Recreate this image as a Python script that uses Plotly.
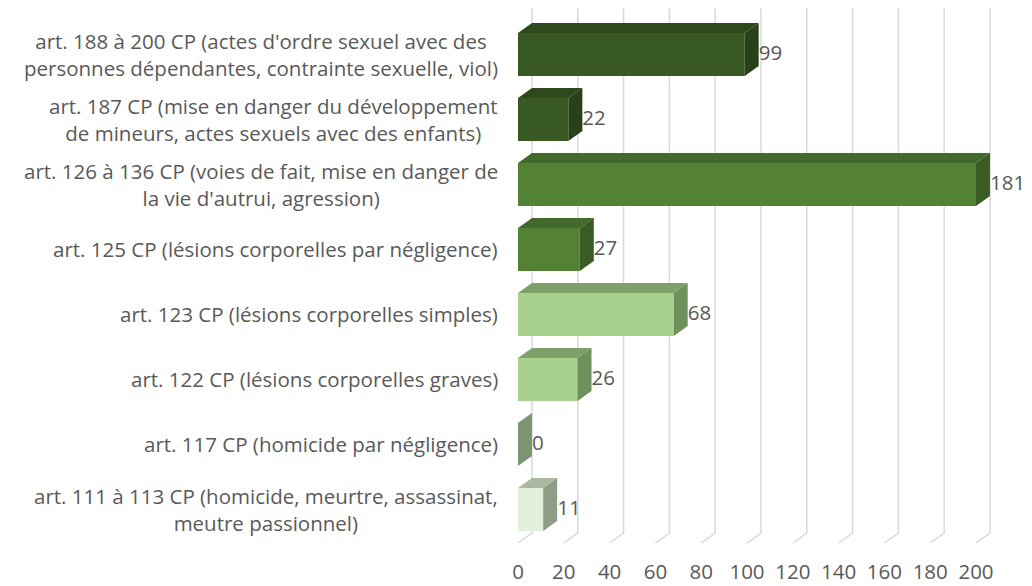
import plotly.graph_objects as go

# données (de haut en bas dans le graphique)
categories = [
    "art. 188 à 200 CP (actes d'ordre sexuel avec des<br>personnes dépendantes, contrainte sexuelle, viol)",
    "art. 187 CP (mise en danger du développement<br>de mineurs, actes sexuels avec des enfants)",
    "art. 126 à 136 CP (voies de fait, mise en danger de<br>la vie d'autrui, agression)",
    "art. 125 CP (lésions corporelles par négligence)",
    "art. 123 CP (lésions corporelles simples)",
    "art. 122 CP (lésions corporelles graves)",
    "art. 117 CP (homicide par négligence)",
    "art. 111 à 113 CP (homicide, meurtre, assassinat,<br>meutre passionnel)",
]
# étiquettes affichées
valeurs = [99, 22, 181, 27, 68, 26, 0, 11]
longueurs = [99, 22, 200, 27, 68, 26, 0, 11]
ticks_x = [0, 20, 40, 60, 80, 100, 120, 140, 160, 180, 200]

# couleurs: face avant, dessus, côté
front_cols = ["#395922", "#395922", "#548235", "#548235", "#a9d18e", "#a9d18e", "#a9d18e", "#e2efda"]
top_cols = ["#2e4a1c", "#2e4a1c", "#426a2c", "#426a2c", "#7fa068", "#7fa068", "#7d9472", "#a8b9a0"]
side_cols = ["#28411a", "#28411a", "#3a5c25", "#3a5c25", "#6f8f5c", "#6f8f5c", "#7d9472", "#8c9f86"]

FONT = "Open Sans"
GREY = "#595959"
FS = 20.5

# géométrie (unités des axes)
DX = 6.1      # profondeur 3D en x
DY = 0.154    # profondeur 3D en y
H = 0.33      # demi-hauteur des barres
Y_FRONT_FLOOR = -0.516
Y_BACK_FLOOR = -0.362
Y_TOP = 7.715

n = len(categories)
pos = [n - 1 - i for i in range(n)]

fig = go.Figure()

# murs: lignes de grille verticales + diagonales du sol (derrière les barres)
for t in ticks_x:
    fig.add_shape(type="path", xref="x", yref="y", layer="below",
                  path=f"M {t},{Y_FRONT_FLOOR} L {t + DX},{Y_BACK_FLOOR} L {t + DX},{Y_TOP}",
                  line=dict(color="#d9d9d9", width=1.5))

for i, v in enumerate(longueurs):
    c = pos[i]
    # face avant
    fig.add_trace(go.Bar(x=[v], y=[c], orientation="h", width=2 * H, base=0,
                         marker=dict(color=front_cols[i], line=dict(width=0)),
                         showlegend=False, hoverinfo="skip"))
    # dessus
    fig.add_trace(go.Scatter(x=[0, v, v + DX, DX, 0],
                             y=[c + H, c + H, c + H + DY, c + H + DY, c + H],
                             fill="toself", fillcolor=top_cols[i], mode="lines",
                             line=dict(width=0, color=top_cols[i]),
                             hoverinfo="skip", showlegend=False))
    # côté
    fig.add_trace(go.Scatter(x=[v, v, v + DX, v + DX, v],
                             y=[c - H, c + H, c + H + DY, c - H + DY, c - H],
                             fill="toself", fillcolor=side_cols[i], mode="lines",
                             line=dict(width=0, color=side_cols[i]),
                             hoverinfo="skip", showlegend=False))

# étiquettes de valeurs
fig.add_trace(go.Scatter(x=[v + DX for v in longueurs], y=pos, mode="text",
                         text=[str(v) for v in valeurs], textposition="middle right",
                         textfont=dict(size=FS, color=GREY, family=FONT),
                         hoverinfo="skip", showlegend=False, cliponaxis=False))

# étiquettes des catégories
for i, cat in enumerate(categories):
    fig.add_annotation(text=cat, xref="paper", x=0, y=pos[i], yref="y",
                       xanchor="right", yanchor="middle", align="center",
                       showarrow=False, font=dict(size=FS, color=GREY, family=FONT))

fig.update_layout(
    width=1024, height=578,
    margin=dict(l=492, r=0, t=0, b=40),
    plot_bgcolor="white", paper_bgcolor="white",
    barmode="overlay",
    font=dict(family=FONT, size=FS, color=GREY),
    xaxis=dict(range=[-7.86, 224.45], tickvals=ticks_x, showgrid=False, zeroline=False,
               showline=False, ticklabelstandoff=11, fixedrange=True),
    yaxis=dict(range=[-0.562, Y_TOP], showticklabels=False, showgrid=False,
               zeroline=False, showline=False, fixedrange=True),
)

fig.write_html("out.html")
